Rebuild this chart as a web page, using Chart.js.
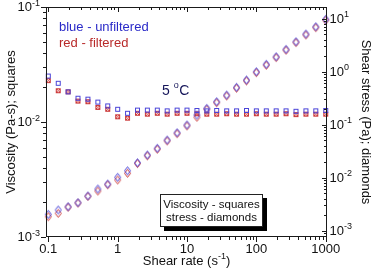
<!DOCTYPE html>
<html>
<head>
<meta charset="utf-8">
<script src="https://cdn.jsdelivr.net/npm/chart.js@4.4.1/dist/chart.umd.min.js"></script>
<style>
  html, body { margin: 0; padding: 0; background: #fff; }
  #chart { display: block; }
</style>
</head>
<body>
<canvas id="chart" width="374" height="268"></canvas>
<script>
// shear rate (1/s), 7 points per decade
const shearRate = [0.1, 0.139, 0.193, 0.268, 0.373, 0.518, 0.72, 1, 1.39, 1.93, 2.68, 3.73, 5.18, 7.2, 10,
    13.9, 19.3, 26.8, 37.3, 51.8, 72, 100, 139, 193, 268, 373, 518, 720, 1000];

// viscosity (Pa-s), left axis, squares
const viscBlue = [0.0251, 0.0217, 0.0183, 0.0161, 0.0158, 0.0149, 0.0138, 0.0129, 0.0119, 0.0127, 0.0127, 0.0127,
    0.0125, 0.0127, 0.0127, 0.0126, 0.0125, 0.0126, 0.0125, 0.0125, 0.0126, 0.0125, 0.0125, 0.0125, 0.0125,
    0.0124, 0.0125, 0.0125, 0.0126];
const viscRed = [0.0229, 0.0187, 0.0183, 0.0152, 0.0150, 0.0134, 0.0129, 0.0111, 0.0108, 0.0119, 0.0117, 0.0119,
    0.0117, 0.0119, 0.0119, 0.0118, 0.0117, 0.0117, 0.0118, 0.0117, 0.0117, 0.0118, 0.0117, 0.0117, 0.0118,
    0.0116, 0.0117, 0.0117, 0.0117];

// shear stress (Pa), right axis, diamonds
const stressBlue = [0.00202, 0.00244, 0.00281, 0.00335, 0.00448, 0.00607, 0.00753, 0.0101, 0.0134, 0.0190, 0.0266,
    0.0356, 0.0510, 0.0700, 0.098, 0.151, 0.202, 0.269, 0.360, 0.504, 0.692, 0.991, 1.37, 1.90, 2.62, 3.65,
    5.10, 7.00, 9.66];
const stressRed = [0.00182, 0.00211, 0.00275, 0.00330, 0.00440, 0.00556, 0.0073, 0.00898, 0.0120, 0.0183, 0.0256,
    0.0342, 0.0490, 0.0672, 0.094, 0.137, 0.194, 0.258, 0.346, 0.484, 0.665, 0.952, 1.31, 1.83, 2.52, 3.51,
    4.90, 6.72, 9.28];

// tick labels
const xTicks = [0.1, 1, 10, 100, 1000];
const xTickLabels = ['0.1', '1', '10', '100', '1000'];
const leftExps = [-3, -2, -1];
const rightExps = [-3, -2, -1, 0, 1];

const FONT = '"Liberation Sans", Arial, sans-serif';
const blueCol = '#4a44d8';
const redCol = '#cc3a3a';

function makeMarker(w, h, draw) {
    const c = document.createElement('canvas');
    c.width = w;
    c.height = h;
    const g = c.getContext('2d');
    g.lineWidth = 1;
    draw(g);
    return c;
}

const sqBlue = makeMarker(7, 7, g => {
    g.strokeStyle = blueCol;
    g.strokeRect(1.5, 1.5, 4, 4);
});
const sqRed = makeMarker(7, 7, g => {
    g.strokeStyle = redCol;
    g.strokeRect(1.5, 1.5, 4, 4);
    g.beginPath();
    g.moveTo(1.5, 1.5); g.lineTo(5.5, 5.5);
    g.moveTo(5.5, 1.5); g.lineTo(1.5, 5.5);
    g.stroke();
});
function diamond(col) {
    return makeMarker(9, 11, g => {
        g.strokeStyle = col;
        g.beginPath();
        g.moveTo(4.5, 1.5);
        g.lineTo(7.5, 5.5);
        g.lineTo(4.5, 9.5);
        g.lineTo(1.5, 5.5);
        g.closePath();
        g.stroke();
    });
}

function pairs(ys) {
    return shearRate.map((x, i) => ({ x: x, y: ys[i] }));
}

function drawPow(ctx, exp, x, y, align) {
    ctx.font = '13px ' + FONT;
    const w1 = ctx.measureText('10').width;
    ctx.font = '9px ' + FONT;
    const w2 = ctx.measureText(String(exp)).width;
    const sx = align === 'right' ? x - w1 - w2 : x;
    ctx.textAlign = 'left';
    ctx.textBaseline = 'alphabetic';
    ctx.font = '13px ' + FONT;
    ctx.fillText('10', sx, y + 4);
    ctx.font = '9px ' + FONT;
    ctx.fillText(String(exp), sx + w1, y - 1.5);
}

function minorValues(lo, hi) {
    const out = [];
    for (let e = Math.floor(Math.log10(lo)); e <= Math.ceil(Math.log10(hi)); e++) {
        for (let m = 2; m <= 9; m++) {
            const v = m * Math.pow(10, e);
            if (v > lo && v < hi) out.push(v);
        }
    }
    return out;
}

// frame, ticks, labels and notes
const decor = {
    id: 'decor',
    afterDatasetsDraw(chart) {
        const ctx = chart.ctx;
        const a = chart.chartArea;
        const sx = chart.scales.x, sl = chart.scales.yL, sr = chart.scales.yR;
        const r = v => Math.round(v) + 0.5;
        ctx.save();
        ctx.strokeStyle = '#1a1a1a';
        ctx.fillStyle = '#111';
        ctx.lineWidth = 1;
        ctx.strokeRect(a.left + 0.5, a.top + 0.5, a.right - a.left - 1, a.bottom - a.top - 1);

        ctx.beginPath();
        // bottom (outward) and top (inward)
        xTicks.forEach(v => {
            const p = r(sx.getPixelForValue(v));
            ctx.moveTo(p, a.bottom); ctx.lineTo(p, a.bottom + 5);
            ctx.moveTo(p, a.top); ctx.lineTo(p, a.top + 5);
        });
        minorValues(sx.min, sx.max).forEach(v => {
            const p = r(sx.getPixelForValue(v));
            ctx.moveTo(p, a.bottom); ctx.lineTo(p, a.bottom + 3);
            ctx.moveTo(p, a.top); ctx.lineTo(p, a.top + 3);
        });
        // left (outward)
        leftExps.forEach(e => {
            const p = r(sl.getPixelForValue(Math.pow(10, e)));
            ctx.moveTo(a.left, p); ctx.lineTo(a.left - 5, p);
        });
        minorValues(sl.min, sl.max).forEach(v => {
            const p = r(sl.getPixelForValue(v));
            ctx.moveTo(a.left, p); ctx.lineTo(a.left - 3, p);
        });
        // right (inward)
        rightExps.forEach(e => {
            const p = r(sr.getPixelForValue(Math.pow(10, e)));
            ctx.moveTo(a.right, p); ctx.lineTo(a.right - 5, p);
        });
        minorValues(sr.min, sr.max).forEach(v => {
            const p = r(sr.getPixelForValue(v));
            ctx.moveTo(a.right, p); ctx.lineTo(a.right - 3, p);
        });
        ctx.stroke();

        // tick labels
        ctx.font = '13px ' + FONT;
        ctx.textAlign = 'center';
        ctx.textBaseline = 'alphabetic';
        xTicks.forEach((v, i) => {
            ctx.fillText(xTickLabels[i], sx.getPixelForValue(v), a.bottom + 16);
        });
        leftExps.forEach(e => drawPow(ctx, e, a.left - 6, sl.getPixelForValue(Math.pow(10, e)), 'right'));
        rightExps.forEach(e => drawPow(ctx, e, a.right + 2.5, sr.getPixelForValue(Math.pow(10, e)), 'left'));

        // x title with superscript
        ctx.font = '13px ' + FONT;
        const t1 = 'Shear rate (s', t3 = ')';
        const w1 = ctx.measureText(t1).width, w3 = ctx.measureText(t3).width;
        ctx.font = '9px ' + FONT;
        const w2 = ctx.measureText('-1').width;
        let tx = (a.left + a.right) / 2 - (w1 + w2 + w3) / 2;
        ctx.textAlign = 'left';
        ctx.font = '13px ' + FONT;
        ctx.fillText(t1, tx, 265);
        ctx.font = '9px ' + FONT;
        ctx.fillText('-1', tx + w1, 259);
        ctx.font = '13px ' + FONT;
        ctx.fillText(t3, tx + w1 + w2, 265);

        // y titles
        const cy = (a.top + a.bottom) / 2;
        ctx.textAlign = 'center';
        ctx.textBaseline = 'middle';
        ctx.save();
        ctx.translate(11, cy);
        ctx.rotate(-Math.PI / 2);
        ctx.fillText('Viscosity (Pa-s); squares', 0, 0);
        ctx.restore();
        ctx.save();
        ctx.translate(366, cy);
        ctx.rotate(Math.PI / 2);
        ctx.fillText('Shear stress (Pa); diamonds', 0, 0);
        ctx.restore();

        // notes
        ctx.textAlign = 'left';
        ctx.textBaseline = 'alphabetic';
        ctx.font = '13px ' + FONT;
        ctx.fillStyle = '#2a2ac8';
        ctx.fillText('blue - unfiltered', 59, 30.5);
        ctx.fillStyle = '#b82a2a';
        ctx.fillText('red - filtered', 59, 47);

        ctx.fillStyle = '#16165a';
        ctx.font = '14px ' + FONT;
        ctx.fillText('5 ', 162, 95);
        const w5 = ctx.measureText('5 ').width;
        ctx.font = '9px ' + FONT;
        ctx.fillText('o', 162 + w5, 88);
        const wo = ctx.measureText('o').width;
        ctx.font = '14px ' + FONT;
        ctx.fillText('C', 162 + w5 + wo + 0.5, 95);

        // key box with shadow
        ctx.fillStyle = '#000';
        ctx.fillRect(164, 198, 103, 33);
        ctx.fillStyle = '#fff';
        ctx.fillRect(160, 194, 103, 33);
        ctx.strokeStyle = '#222';
        ctx.strokeRect(160.5, 194.5, 102, 32);
        ctx.fillStyle = '#111';
        ctx.font = '11.5px ' + FONT;
        ctx.textAlign = 'center';
        ctx.fillText('Viscosity - squares', 211.5, 208);
        ctx.fillText('stress - diamonds', 211.5, 221);
        ctx.restore();
    }
};

const ds = (label, ys, axis, style) => ({
    label: label,
    data: pairs(ys),
    yAxisID: axis,
    showLine: false,
    pointStyle: style,
    pointRadius: 3,
    pointHoverRadius: 3,
    clip: false
});

new Chart(document.getElementById('chart'), {
    type: 'scatter',
    data: {
        datasets: [
            ds('stress unfiltered', stressBlue, 'yR', diamond(blueCol)),
            ds('viscosity unfiltered', viscBlue, 'yL', sqBlue),
            ds('stress filtered', stressRed, 'yR', diamond(redCol)),
            ds('viscosity filtered', viscRed, 'yL', sqRed)
        ]
    },
    options: {
        responsive: false,
        animation: false,
        devicePixelRatio: 1,
        layout: { padding: { top: 7, left: 0, right: 0, bottom: 0 } },
        plugins: { legend: { display: false }, tooltip: { enabled: false } },
        scales: {
            x: {
                type: 'logarithmic', position: 'bottom', min: 0.0927, max: 1044,
                ticks: { display: false }, grid: { display: false }, border: { display: false },
                afterFit: s => { s.height = 31; }
            },
            yL: {
                type: 'logarithmic', position: 'left', min: 0.001, max: 0.1,
                ticks: { display: false }, grid: { display: false }, border: { display: false },
                afterFit: s => { s.width = 46; }
            },
            yR: {
                type: 'logarithmic', position: 'right', min: 0.000754, max: 16.5,
                ticks: { display: false }, grid: { display: false }, border: { display: false },
                afterFit: s => { s.width = 47; }
            }
        }
    },
    plugins: [decor]
});
</script>
</body>
</html>
